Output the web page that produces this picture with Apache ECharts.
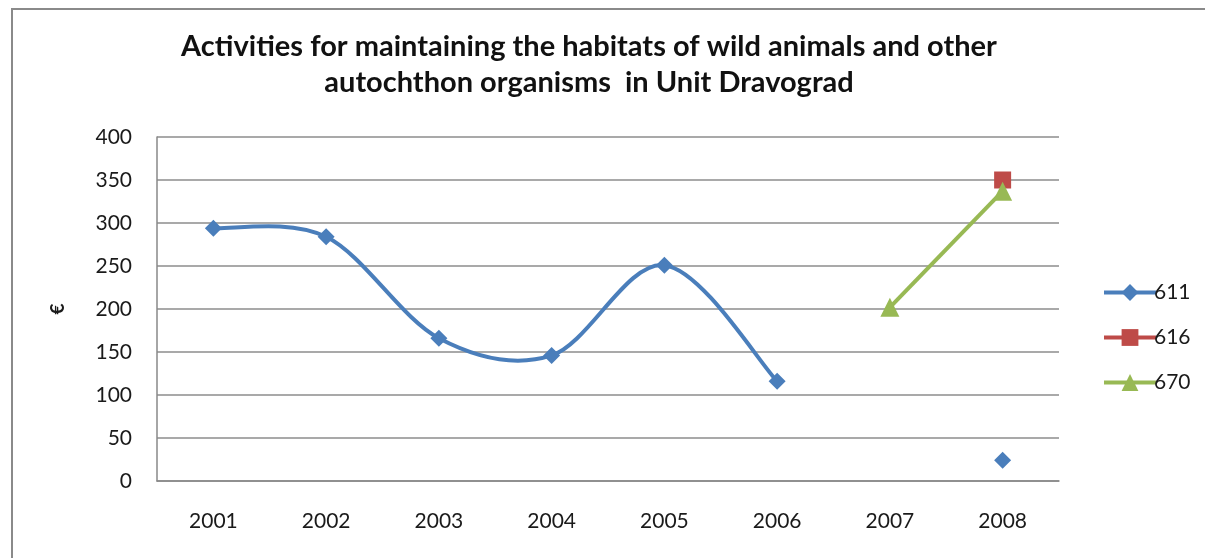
<!DOCTYPE html>
<html>
<head>
<meta charset="utf-8">
<script src="https://cdn.jsdelivr.net/npm/echarts@6/dist/echarts.min.js"></script>
<style>
  html, body { margin: 0; padding: 0; background: #fff; }
  #chart { width: 1205px; height: 558px; }
</style>
</head>
<body>
<div id="chart"></div>
<script>
// Years on the category axis
const years = ['2001', '2002', '2003', '2004', '2005', '2006', '2007', '2008'];
// Spending per activity code (EUR); null where there was none
const s611 = [294, 284, 166, 146, 251, 116, null, 24];
const s616 = [null, null, null, null, null, null, null, 350];
const s670 = [null, null, null, null, null, null, 202, 337];
// Value axis
const yMin = 0, yMax = 400, yStep = 50;

const chart = echarts.init(document.getElementById('chart'));
const font = 'Lato, "Open Sans", sans-serif';
const blue = '#4a7ebb';

// Cardinal-spline segment from point i to i+1 of a series (gaps break the curve)
function splineSegment(values, i, api) {
  const v0 = values[i], v1 = values[i + 1];
  if (v0 == null || v1 == null) return null;
  const p1 = api.coord([i, v0]);
  const p2 = api.coord([i + 1, v1]);
  const p0 = (i > 0 && values[i - 1] != null) ? api.coord([i - 1, values[i - 1]]) : p1;
  const p3 = (i + 2 < values.length && values[i + 2] != null) ? api.coord([i + 2, values[i + 2]]) : p2;
  const t = 1 / 6;
  return {
    type: 'bezierCurve',
    shape: {
      x1: p1[0], y1: p1[1],
      cpx1: p1[0] + (p2[0] - p0[0]) * t, cpy1: p1[1] + (p2[1] - p0[1]) * t,
      cpx2: p2[0] - (p3[0] - p1[0]) * t, cpy2: p2[1] - (p3[1] - p1[1]) * t,
      x2: p2[0], y2: p2[1]
    },
    style: { stroke: blue, lineWidth: 4, fill: null, lineCap: 'round' },
    silent: true
  };
}

chart.setOption({
  animation: false,
  backgroundColor: '#fff',
  title: {
    text: 'Activities for maintaining the habitats of wild animals and other\nautochthon organisms  in Unit Dravograd',
    left: 584,
    textAlign: 'center',
    top: 24,
    textStyle: { fontFamily: font, fontWeight: 'bold', fontSize: 29, lineHeight: 36, color: '#111' }
  },
  graphic: [{
    type: 'rect',
    shape: { x: 12, y: 9, width: 1210, height: 570 },
    style: { fill: 'none', stroke: '#8a8a8a', lineWidth: 2 },
    silent: true
  }],
  grid: { left: 157, right: 146, top: 137, bottom: 77 },
  legend: {
    orient: 'vertical',
    left: 1097,
    top: 277,
    itemWidth: 52,
    itemHeight: 21,
    itemGap: 24,
    lineStyle: { width: 4, opacity: 1 },
    textStyle: { fontFamily: font, fontSize: 21, color: '#1a1a1a', padding: [0, 0, 0, -7] },
    data: ['611', '616', '670']
  },
  xAxis: {
    type: 'category',
    data: years,
    boundaryGap: true,
    axisLine: { lineStyle: { color: '#888', width: 1.5 } },
    axisTick: { show: false },
    axisLabel: { fontFamily: font, fontSize: 21, color: '#1a1a1a', margin: 30 }
  },
  yAxis: {
    type: 'value',
    min: yMin, max: yMax, interval: yStep,
    name: '€',
    nameLocation: 'middle',
    nameGap: 90,
    nameRotate: 90,
    nameTextStyle: { fontFamily: font, fontWeight: 'bold', fontSize: 19, color: '#1a1a1a' },
    axisLine: { show: true, lineStyle: { color: '#888', width: 1.5 } },
    axisTick: { show: false },
    splitLine: { lineStyle: { color: '#8c8c8c', width: 1.5 } },
    axisLabel: { fontFamily: font, fontSize: 21, color: '#1a1a1a', margin: 25 }
  },
  series: [
    {
      // smoothed curve for 611, one spline piece per data interval
      type: 'custom',
      coordinateSystem: 'cartesian2d',
      data: s611.map((v, i) => [i, v == null ? '-' : v]),
      encode: { x: 0, y: 1 },
      z: 1,
      silent: true,
      renderItem: (params, api) => splineSegment(s611, params.dataIndex, api) || { type: 'group', children: [] }
    },
    {
      name: '611', type: 'line', data: s611, connectNulls: false,
      symbol: 'diamond', symbolSize: 17, showAllSymbol: true, z: 3,
      lineStyle: { color: blue, width: 4, opacity: 0 },
      itemStyle: { color: blue }
    },
    {
      name: '616', type: 'line', data: s616,
      symbol: 'rect', symbolSize: 17,
      lineStyle: { color: '#be4b48', width: 4 },
      itemStyle: { color: '#be4b48' }
    },
    {
      name: '670', type: 'line', data: s670,
      symbol: 'triangle', symbolSize: 19,
      lineStyle: { color: '#98b954', width: 4 },
      itemStyle: { color: '#98b954' }
    }
  ]
});
</script>
</body>
</html>
